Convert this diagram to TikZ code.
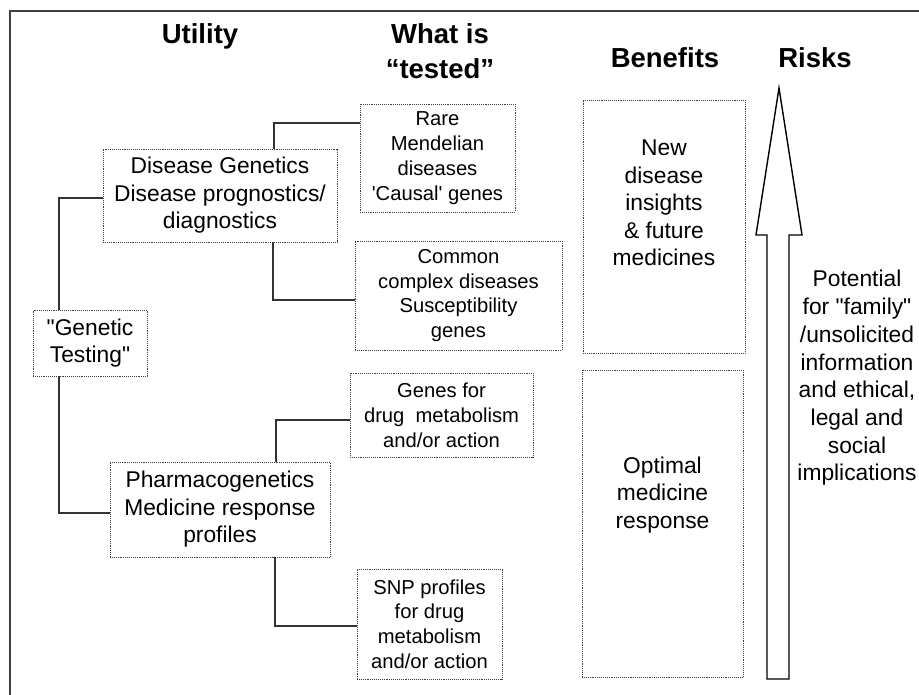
\documentclass[tikz,border=0pt]{standalone}
\usepackage{fontspec}
\setmainfont{Liberation Sans}
\tikzset{
  tbox/.style={draw=black!75, densely dotted, line width=0.9pt, inner sep=0pt, align=center},
  big/.style={font=\fontsize{22.8}{27.5}\selectfont, align=center},
  small/.style={font=\fontsize{20.2}{24.8}\selectfont, align=center},
  title/.style={font=\fontsize{27.5}{35}\selectfont\bfseries, align=center},
  conn/.style={draw=black!80, line width=1.3pt},
  frame/.style={draw=black!75, line width=1.8pt},
  bigarrow/.style={draw=black, line width=1.4pt, line join=miter},
}
\begin{document}
\begin{tikzpicture}[x=1pt,y=-1pt]
\useasboundingbox (0,0) rectangle (919,694);
\fill[white] (0,0) rectangle (919,694);
\draw[frame] (10,705) -- (10,11) -- (930,11);

% titles
\node[title] (tutil) at (200,36) {Utility};
\node[title] (twhat) at (440,51) {What is\\``tested''};
\node[title] (tben) at (665,58) {Benefits};
\node[title] (trisk) at (815,58) {Risks};

% utility column
\node[tbox, big, minimum width=114pt, minimum height=66pt] (gt) at (90,343) {\textquotedbl Genetic\\Testing\textquotedbl};
\node[tbox, big, minimum width=234pt, minimum height=93pt] (dg) at (220,195.5) {Disease Genetics\\Disease prognostics/\\diagnostics};
\node[tbox, big, minimum width=220pt, minimum height=95pt] (ph) at (220,509.5) {Pharmacogenetics\\Medicine response\\profiles};

% what is tested column
\node[tbox, small, minimum width=155pt, minimum height=108pt] (rare) at (437.5,158) {Rare\\Mendelian\\diseases\\\textquotesingle Causal\textquotesingle{} genes};
\node[tbox, small, minimum width=207pt, minimum height=109pt] (common) at (458.5,295.5) {Common\\complex diseases\\Susceptibility\\genes};
\node[tbox, small, minimum width=183pt, minimum height=84pt] (genes) at (441.5,415) {Genes for\\drug\ \ metabolism\\and/or action};
\node[tbox, small, minimum width=145pt, minimum height=110pt] (snp) at (429.5,624) {SNP profiles\\for drug\\metabolism\\and/or action};

% benefits column
\node[tbox, minimum width=162pt, minimum height=253pt] (newd) at (664,226.5) {};
\node[big] (newdt) at (664,203) {New\\disease\\insights\\\& future\\medicines};
\node[tbox, minimum width=161pt, minimum height=307pt] (opt) at (662.5,523.5) {};
\node[big] (optt) at (662.5,495) {Optimal\\medicine\\response};

% risks
\draw[bigarrow] (767,679) -- (767,235) -- (756,235) -- (779,88) -- (802,235) -- (789,235) -- (789,679) -- cycle;
\node[big, font=\fontsize{22.8}{27.7}\selectfont] (risk) at (857,378) {Potential\\for \textquotedbl family\textquotedbl\\/unsolicited\\information\\and ethical,\\legal and\\social\\implications};

% connectors
\draw[conn] ([xshift=-31pt]gt.north) |- ([yshift=-2.5pt]dg.west);
\draw[conn] ([xshift=-31pt]gt.south) |- ([yshift=-3.5pt]ph.west);
\draw[conn] ([xshift=54pt]dg.north) |- ([yshift=35pt]rare.west);
\draw[conn] ([xshift=53pt]dg.south) |- ([yshift=-4.5pt]common.west);
\draw[conn] ([xshift=56pt]ph.north) |- ([yshift=-5pt]genes.west);
\draw[conn] ([xshift=55pt]ph.south) |- ([yshift=-2pt]snp.west);
\end{tikzpicture}
\end{document}
